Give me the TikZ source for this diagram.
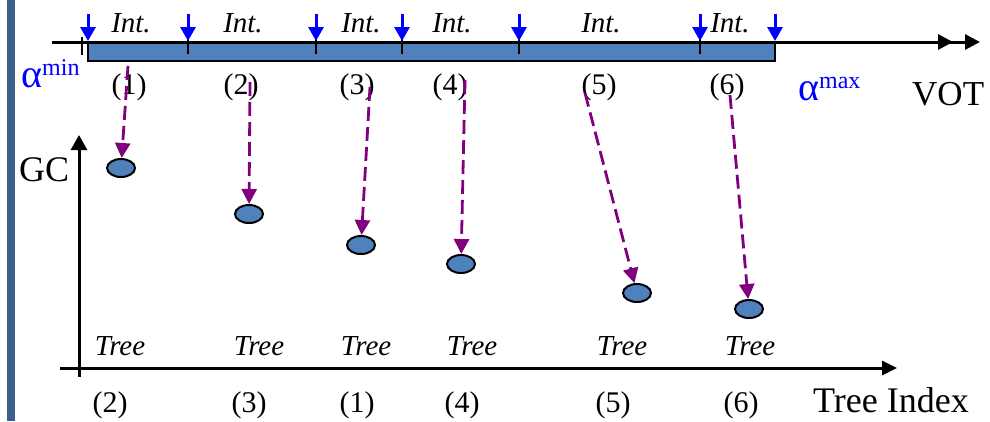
\documentclass[tikz,border=0pt]{standalone}
\usepackage{fontspec}
\setmainfont{Liberation Serif}[ItalicFont={Liberation Serif Italic}]
\usetikzlibrary{arrows.meta,shapes.geometric}
\definecolor{barblue}{RGB}{79,129,189}
\definecolor{sideblue}{RGB}{60,95,140}
\definecolor{arrpurple}{RGB}{128,0,128}
\definecolor{arrblue}{RGB}{0,0,255}
\tikzset{
  axis/.style={line width=3pt},
  intlbl/.style={anchor=base,inner sep=0pt,font=\fontsize{29}{32}\selectfont\itshape},
  numlbl/.style={anchor=base,inner sep=0pt,font=\fontsize{30}{33}\selectfont},
  bigtxt/.style={anchor=base west,inner sep=0pt,font=\fontsize{35}{38}\selectfont},
  alphalbl/.style={anchor=base west,inner sep=0pt,text=arrblue},
  dot/.style={ellipse,draw,line width=2pt,fill=barblue,minimum width=28pt,minimum height=18pt,inner sep=0pt},
  cut/.style={arrblue,line width=3pt,-{Triangle[length=14pt,width=15pt]}},
  tick/.style={line width=2.5pt},
  map/.style={arrpurple,line width=2.8pt,dash pattern=on 14pt off 6pt,-{Triangle[length=15pt,width=15pt]}}
}
\newcommand{\alphalabel}[1]{{\fontsize{40}{40}\selectfont α}\raisebox{12pt}{\fontsize{24}{24}\selectfont #1}}
\begin{document}
\begin{tikzpicture}[x=1pt,y=-1pt]
\useasboundingbox (0,0) rectangle (990,421);
% left side band
\fill[sideblue] (7,0) rectangle (15,421);

% interval bar
\draw[line width=2pt,fill=barblue] (88,42) rectangle (775,61);
% small tick before bar
\draw[line width=2pt] (82,37) -- (82,55);
% ticks
\foreach \x in {188,316,402,519,700} \draw[tick] (\x,35) -- (\x,54);
% top axis
\coordinate (vs) at (52,42);
\coordinate (ve) at (980,42);
\draw[axis,-{Triangle[length=15pt,width=15pt,sep=12pt]Triangle[length=15pt,width=15pt]}] (vs) -- (ve);
% blue cut arrows
\foreach \x in {88,188,316,402,519,700,775} \draw[cut] (\x,14) -- (\x,41);

% Int. labels
\node[intlbl] (i1) at (131,32) {Int.};
\node[intlbl] (i2) at (243,32) {Int.};
\node[intlbl] (i3) at (361,32) {Int.};
\node[intlbl] (i4) at (452,32) {Int.};
\node[intlbl] (i5) at (601,32) {Int.};
\node[intlbl] (i6) at (730,32) {Int.};

% interval indices
\node[numlbl] (n1) at (129,94) {(1)};
\node[numlbl] (n2) at (241,94) {(2)};
\node[numlbl] (n3) at (357,94) {(3)};
\node[numlbl] (n4) at (450,94) {(4)};
\node[numlbl] (n5) at (599,94) {(5)};
\node[numlbl] (n6) at (727,94) {(6)};

% alpha labels
\node[alphalbl] (amin) at (21,87) {\alphalabel{min}};
\node[alphalbl] (amax) at (798,100) {\alphalabel{max}};
\node[bigtxt] (vot) at (912,105) {VOT};

% bottom axes
\coordinate (hx0) at (60,368);
\coordinate (hx1) at (897,368);
\coordinate (vy0) at (79,377);
\coordinate (vy1) at (79,135);
\draw[axis,-{Triangle[length=15pt,width=14pt]}] (hx0) -- (hx1);
\draw[axis,-{Triangle[length=15pt,width=16pt]}] (vy0) -- (vy1);
\node[bigtxt,font=\fontsize{36}{38}\selectfont] (gc) at (19,181) {GC};
\node[bigtxt,font=\fontsize{36}{38}\selectfont] (ti) at (813,412) {Tree Index};

% tree labels
\node[intlbl] (t1) at (120,355) {Tree};
\node[intlbl] (t2) at (259,355) {Tree};
\node[intlbl] (t3) at (366,355) {Tree};
\node[intlbl] (t4) at (472,355) {Tree};
\node[intlbl] (t5) at (622,355) {Tree};
\node[intlbl] (t6) at (750,355) {Tree};

% tree indices
\node[numlbl] (b1) at (110,412) {(2)};
\node[numlbl] (b2) at (249,412) {(3)};
\node[numlbl] (b3) at (357,412) {(1)};
\node[numlbl] (b4) at (462,412) {(4)};
\node[numlbl] (b5) at (613,412) {(5)};
\node[numlbl] (b6) at (741,412) {(6)};

% GC points
\node[dot] (e1) at (121,168) {};
\node[dot] (e2) at (249,214) {};
\node[dot] (e3) at (361,245) {};
\node[dot] (e4) at (461,264) {};
\node[dot] (e5) at (637,293) {};
\node[dot] (e6) at (749,309) {};

% mapping arrows
\coordinate (s1) at (128,66);
\coordinate (s2) at (250,82);
\coordinate (s3) at (370,87);
\coordinate (s4) at (465,80);
\coordinate (s5) at (585,93);
\coordinate (s6) at (730,95);
\draw[map] (s1) -- (e1);
\draw[map] (s2) -- (e2);
\draw[map] (s3) -- (e3);
\draw[map] (s4) -- (e4);
\draw[map] (s5) -- (e5);
\draw[map] (s6) -- (e6);
\end{tikzpicture}
\end{document}
